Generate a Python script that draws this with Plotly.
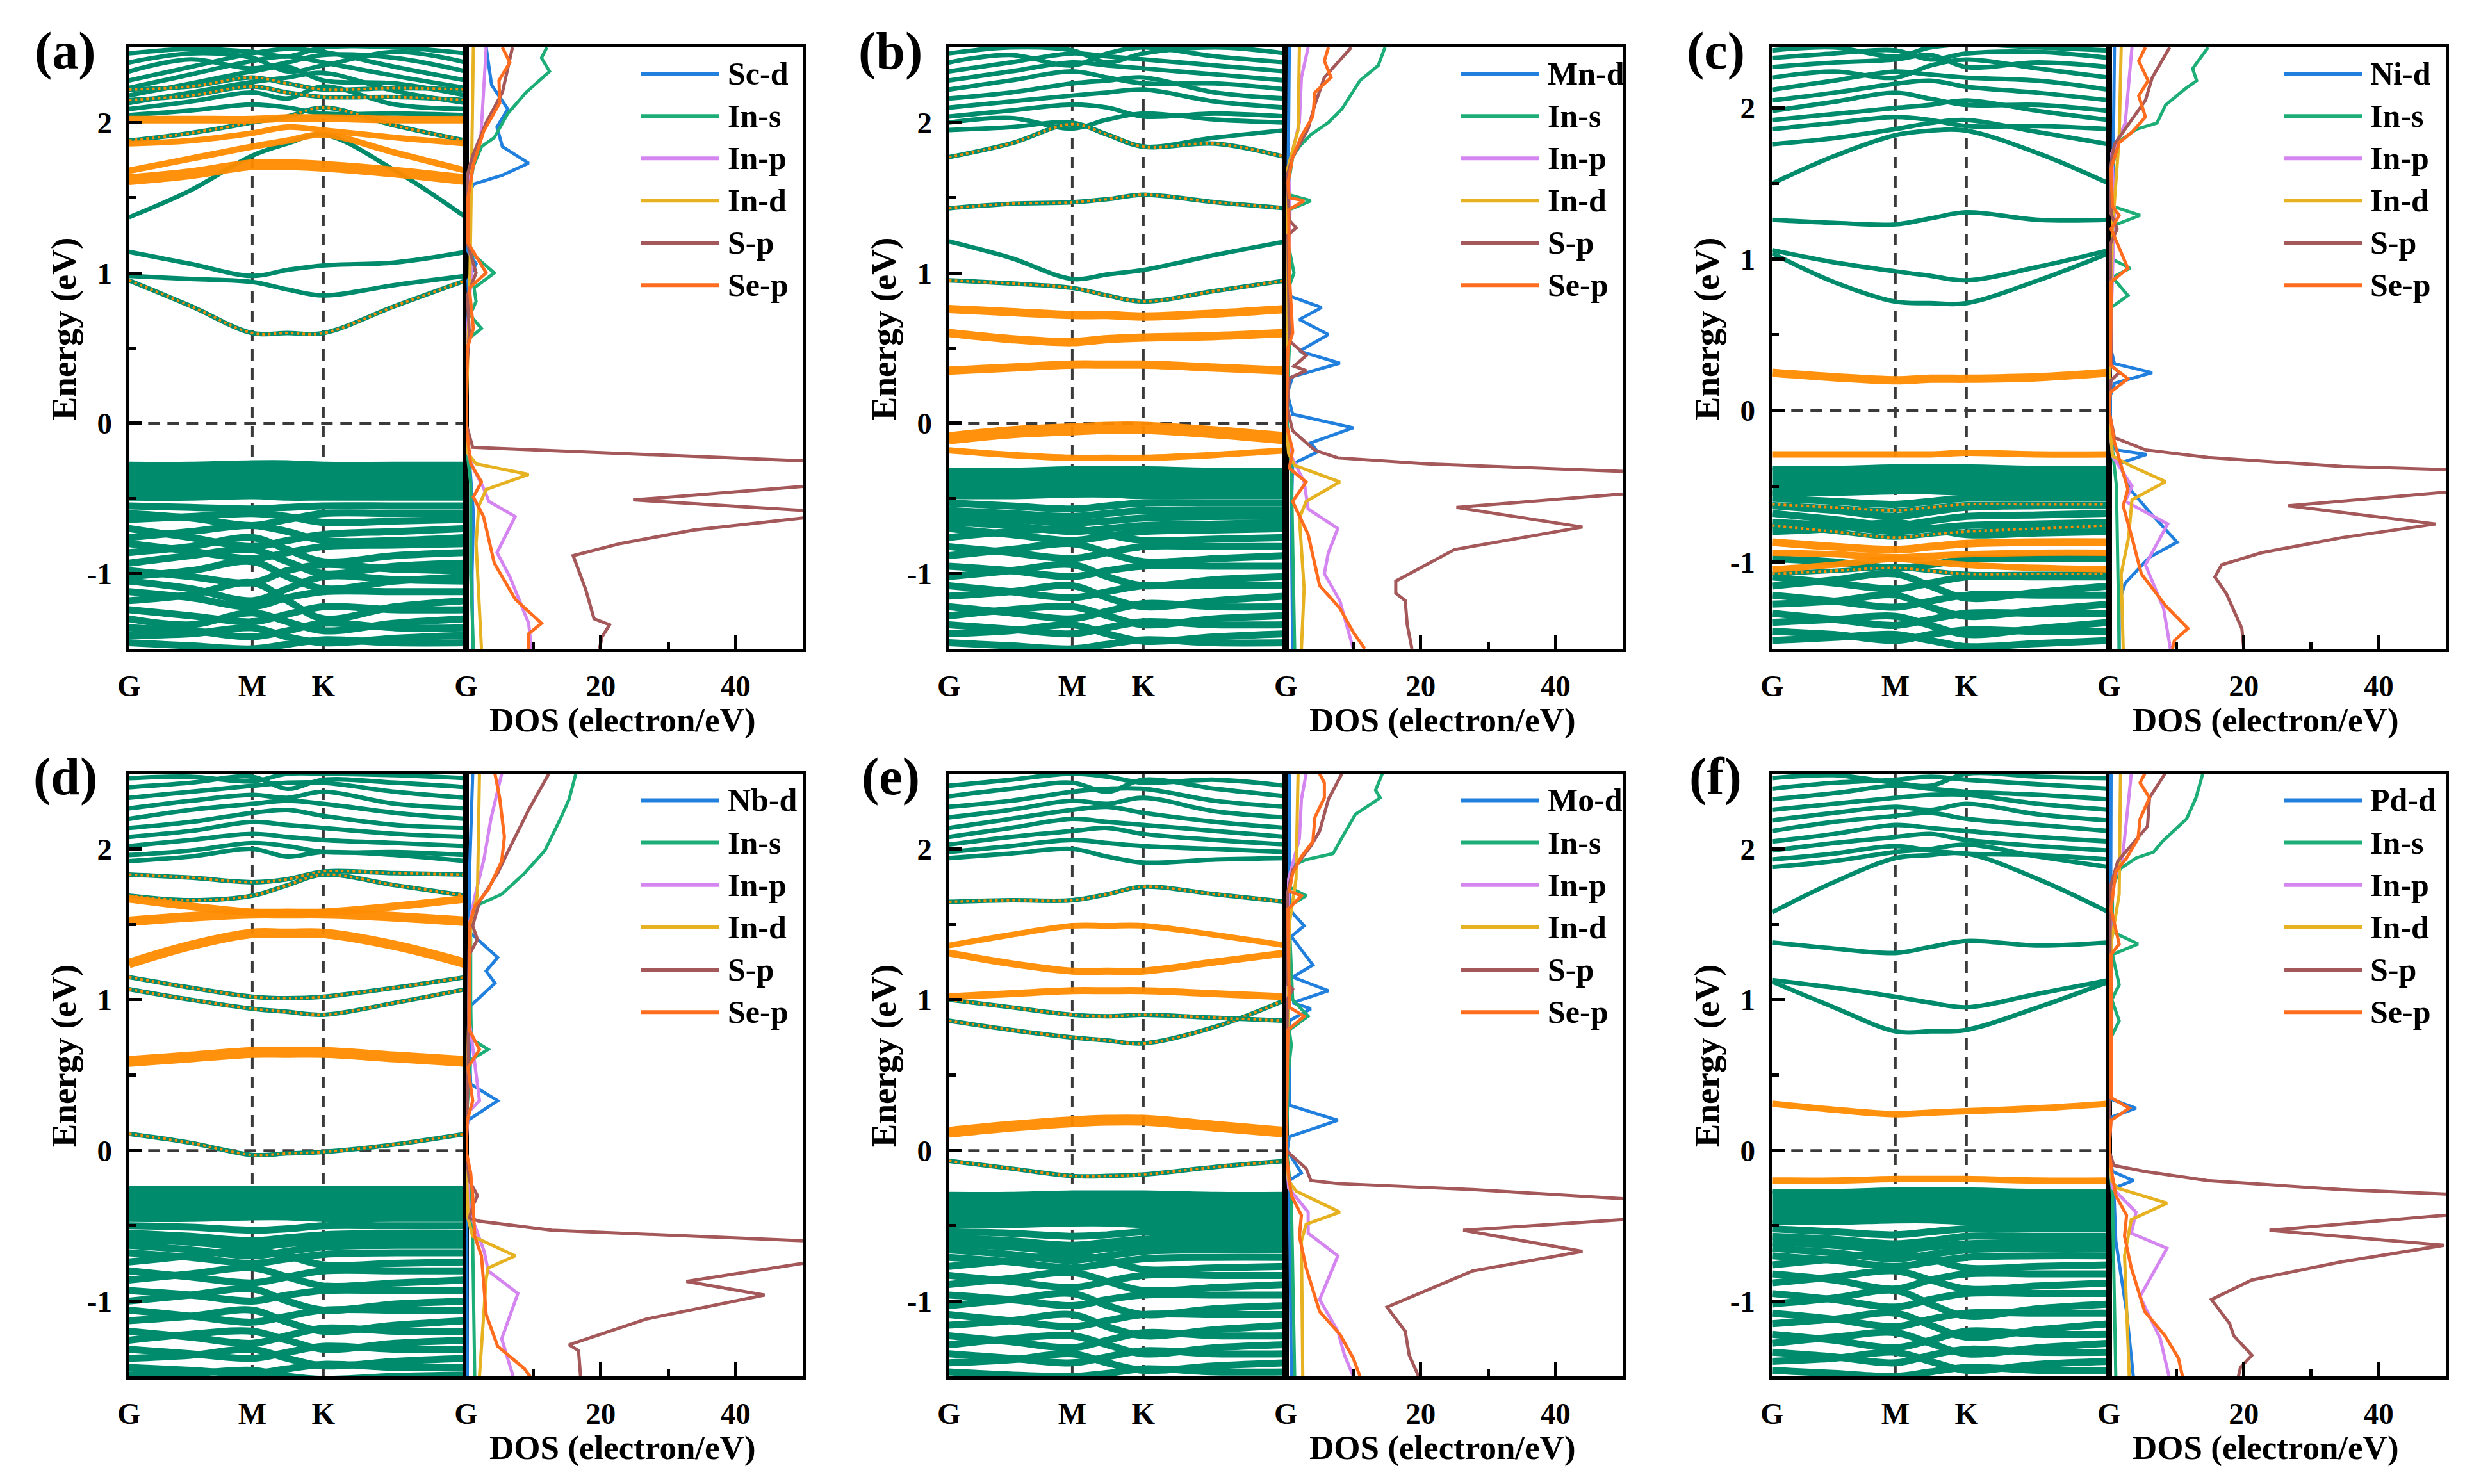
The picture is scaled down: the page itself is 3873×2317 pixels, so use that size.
import plotly.graph_objects as go

# ---------------- axes / labels ----------------
K_NODES = [0.0, 0.183, 0.366, 0.47, 0.577, 0.79, 1.0]   # G, G-M, M, M-K, K, K-G, G
K_TICK_VALS = [0.0, 0.366, 0.577, 1.0]
K_TICK_TEXT = ["G", "M", "K", "G"]
DOS_TICK_VALS = [20, 40]
DOS_MINOR_VALS = [10, 30]
E_TICK_VALS = [-1, 0, 1, 2]
E_TICK_TEXT = ["-1", "0", "1", "2"]
E_MINOR_VALS = [-0.5, 0.5, 1.5]
PANEL_LABELS = ["(a)", "(b)", "(c)", "(d)", "(e)", "(f)"]
TM_NAMES = ["Sc-d", "Mn-d", "Ni-d", "Nb-d", "Mo-d", "Pd-d"]
HOST_NAMES = ["In-s", "In-p", "In-d", "S-p", "Se-p"]
E_RANGES = [[-1.5, 2.5], [-1.5, 2.5], [-1.575, 2.4], [-1.5, 2.5], [-1.5, 2.5], [-1.5, 2.5]]
DOS_RANGE = [0, 50]

# ================= panel (a) Sc =================
A_VB_TOP = [-0.27, -0.27, -0.26, -0.26, -0.27, -0.27, -0.27]
A_VB_BOT = [-0.50, -0.50, -0.49, -0.50, -0.50, -0.50, -0.50]
A_VB = [
    [-0.55, -0.56, -0.57, -0.56, -0.55, -0.55, -0.55],
    [-0.60, -0.63, -0.68, -0.64, -0.60, -0.60, -0.60],
    [-0.64, -0.62, -0.60, -0.62, -0.66, -0.65, -0.64],
    [-0.70, -0.76, -0.82, -0.78, -0.74, -0.72, -0.70],
    [-0.76, -0.72, -0.68, -0.72, -0.78, -0.78, -0.76],
    [-0.80, -0.85, -0.90, -0.86, -0.82, -0.81, -0.80],
    [-0.86, -0.82, -0.76, -0.84, -0.92, -0.88, -0.86],
    [-0.93, -0.88, -0.84, -0.92, -1.00, -0.95, -0.93],
    [-0.98, -1.02, -1.06, -0.98, -0.94, -0.97, -0.98],
    [-1.02, -0.98, -0.92, -1.02, -1.10, -1.05, -1.02],
    [-1.05, -1.10, -1.18, -1.10, -1.02, -1.04, -1.05],
    [-1.12, -1.16, -1.22, -1.16, -1.12, -1.12, -1.12],
    [-1.18, -1.14, -1.06, -1.18, -1.30, -1.22, -1.18],
    [-1.24, -1.28, -1.32, -1.27, -1.22, -1.24, -1.24],
    [-1.30, -1.34, -1.26, -1.32, -1.38, -1.33, -1.30],
    [-1.36, -1.38, -1.42, -1.38, -1.33, -1.36, -1.36],
    [-1.41, -1.40, -1.36, -1.42, -1.46, -1.43, -1.41],
    [-1.46, -1.48, -1.50, -1.47, -1.44, -1.46, -1.46],
]
A_CB = [
    [1.37, 1.55, 1.78, 1.86, 1.92, 1.68, 1.37],
    [1.14, 1.06, 0.98, 1.02, 1.05, 1.07, 1.14],
    [0.98, 0.96, 0.94, 0.89, 0.85, 0.92, 0.98],
    [2.05, 2.08, 2.12, 2.10, 2.06, 2.06, 2.05],
    [2.09, 2.14, 2.20, 2.16, 2.24, 2.12, 2.09],
    [2.13, 2.20, 2.27, 2.30, 2.33, 2.21, 2.13],
    [2.18, 2.26, 2.34, 2.37, 2.28, 2.26, 2.18],
    [2.23, 2.32, 2.41, 2.44, 2.40, 2.31, 2.23],
    [2.28, 2.37, 2.46, 2.49, 2.47, 2.37, 2.28],
    [2.34, 2.42, 2.36, 2.40, 2.45, 2.43, 2.34],
    [2.40, 2.46, 2.43, 2.34, 2.38, 2.47, 2.40],
    [2.46, 2.49, 2.47, 2.44, 2.50, 2.50, 2.46],
]
A_DOT = [
    [0.95, 0.78, 0.60, 0.60, 0.60, 0.78, 0.95],
    [1.88, 1.93, 2.00, 2.04, 2.10, 1.98, 1.88],
    [2.15, 2.18, 2.24, 2.20, 2.17, 2.17, 2.15],
    [2.22, 2.24, 2.30, 2.26, 2.22, 2.23, 2.22],
]
A_ORANGE = [
    [1.62, 1.66, 1.72, 1.72, 1.71, 1.67, 1.62],
    [1.68, 1.76, 1.84, 1.88, 1.92, 1.80, 1.68],
    [1.86, 1.88, 1.93, 1.97, 1.95, 1.90, 1.86],
    [2.02, 2.02, 2.02, 2.03, 2.03, 2.02, 2.02],
]
A_ORANGE_W = [17, 10, 9, 12]

A_TM_D = [(2.5, 3.0), (2.25, 3.8), (2.09, 6.2), (1.97, 4.6), (1.84, 5.4), (1.73, 9.3), (1.65, 5.4), (1.59, 1.1),
          (1.5, 0.3), (1.15, 0.2), (1.06, 1.5), (0.95, 0.3), (0.8, 0.4), (0.6, 0.2), (0.0, 0.0), (-0.15, 0.1),
          (-0.3, 0.6), (-0.6, 1.1), (-1.0, 0.9), (-1.5, 1.0)]
A_IN_S = [(2.5, 12.0), (2.43, 11.2), (2.34, 12.4), (2.2, 8.9), (2.06, 6.2), (1.9, 4.2), (1.84, 2.3), (1.71, 1.1),
          (1.5, 0.3), (1.2, 0.3), (1.12, 1.1), (1.0, 4.2), (0.9, 1.2), (0.81, 1.5), (0.72, 0.6), (0.63, 2.3),
          (0.56, 0.3), (0.3, 0.1), (0.0, 0.0), (-0.2, 0.2), (-0.4, 0.7), (-1.0, 0.7), (-1.5, 1.1)]
A_IN_P = [(2.5, 3.0), (2.2, 2.6), (1.9, 2.2), (1.7, 0.6), (1.5, 0.2), (1.0, 0.8), (0.6, 0.2), (0.0, 0.0),
          (-0.2, 0.3), (-0.3, 1.1), (-0.43, 2.6), (-0.52, 3.4), (-0.62, 7.3), (-0.86, 4.6), (-1.02, 6.5),
          (-1.33, 9.3), (-1.5, 9.7)]
A_IN_D = [(2.5, 1.1), (2.0, 0.9), (1.0, 0.6), (0.0, 0.0), (-0.2, 0.3), (-0.27, 1.5), (-0.34, 9.3), (-0.44, 3.0),
          (-0.55, 1.9), (-0.8, 1.5), (-1.5, 2.3)]
A_S_P = [(2.5, 6.9), (2.2, 5.4), (2.0, 3.0), (1.78, 1.0), (1.65, 0.2), (1.2, 0.2), (1.0, 1.5), (0.85, 0.2),
         (0.6, 0.5), (0.3, 0.0), (0.0, 0.0), (-0.16, 1.0), (-0.25, 50.0), (-0.33, 58.0), (-0.42, 50.0),
         (-0.51, 24.8), (-0.58, 50.0), (-0.605, 56.0), (-0.63, 50.0), (-0.71, 33.8), (-0.8, 22.9), (-0.88, 15.9),
         (-1.11, 17.8), (-1.3, 19.0), (-1.34, 21.3), (-1.42, 20.2), (-1.5, 19.8)]
A_SE_P = [(2.5, 5.4), (2.4, 6.5), (2.28, 4.9), (2.13, 5.0), (1.94, 2.6), (1.72, 1.1), (1.5, 0.3), (1.2, 0.3),
          (1.0, 3.0), (0.9, 0.5), (0.63, 1.1), (0.5, 0.2), (0.0, 0.0), (-0.27, 0.7), (-0.39, 2.3), (-0.49, 1.1),
          (-0.62, 2.6), (-0.93, 4.2), (-1.17, 7.3), (-1.33, 11.2), (-1.4, 9.3), (-1.5, 9.3)]

# ================= panel (b) Mn =================
B_VB_TOP = [-0.31, -0.31, -0.30, -0.30, -0.30, -0.31, -0.31]
B_VB_BOT = [-0.49, -0.49, -0.48, -0.48, -0.49, -0.49, -0.49]
B_VB = [
    [-0.53, -0.55, -0.57, -0.55, -0.53, -0.53, -0.53],
    [-0.58, -0.60, -0.62, -0.60, -0.58, -0.58, -0.58],
    [-0.62, -0.64, -0.66, -0.65, -0.63, -0.62, -0.62],
    [-0.66, -0.68, -0.72, -0.70, -0.68, -0.67, -0.66],
    [-0.70, -0.74, -0.78, -0.75, -0.72, -0.71, -0.70],
    [-0.76, -0.72, -0.70, -0.74, -0.78, -0.77, -0.76],
    [-0.82, -0.86, -0.90, -0.86, -0.82, -0.82, -0.82],
    [-0.88, -0.84, -0.80, -0.86, -0.92, -0.90, -0.88],
    [-0.95, -0.98, -1.02, -0.98, -0.95, -0.95, -0.95],
    [-1.02, -0.98, -0.94, -1.02, -1.08, -1.04, -1.02],
    [-1.08, -1.12, -1.16, -1.12, -1.08, -1.08, -1.08],
    [-1.15, -1.12, -1.08, -1.16, -1.22, -1.18, -1.15],
    [-1.22, -1.26, -1.30, -1.25, -1.20, -1.22, -1.22],
    [-1.28, -1.24, -1.22, -1.28, -1.34, -1.30, -1.28],
    [-1.34, -1.37, -1.40, -1.36, -1.32, -1.34, -1.34],
    [-1.40, -1.38, -1.34, -1.40, -1.45, -1.42, -1.40],
    [-1.46, -1.48, -1.50, -1.47, -1.44, -1.46, -1.46],
]
B_CB = [
    [1.95, 1.97, 2.00, 1.92, 1.84, 1.90, 1.95],
    [2.00, 2.03, 1.96, 2.02, 2.06, 2.02, 2.00],
    [2.04, 2.08, 2.12, 2.10, 2.04, 2.06, 2.04],
    [2.10, 2.14, 2.18, 2.20, 2.22, 2.14, 2.10],
    [2.16, 2.20, 2.26, 2.28, 2.30, 2.20, 2.16],
    [2.22, 2.28, 2.34, 2.30, 2.26, 2.26, 2.22],
    [2.28, 2.34, 2.40, 2.38, 2.36, 2.32, 2.28],
    [2.34, 2.40, 2.46, 2.44, 2.42, 2.38, 2.34],
    [2.40, 2.45, 2.38, 2.46, 2.50, 2.44, 2.40],
    [2.46, 2.50, 2.48, 2.40, 2.46, 2.50, 2.46],
    [1.21, 1.10, 0.96, 0.99, 1.02, 1.12, 1.21],
]
B_DOT = [
    [1.77, 1.86, 1.99, 1.92, 1.84, 1.86, 1.77],
    [1.43, 1.46, 1.47, 1.49, 1.52, 1.47, 1.43],
    [0.95, 0.93, 0.90, 0.85, 0.81, 0.88, 0.95],
]
B_ORANGE = [
    [0.76, 0.74, 0.72, 0.72, 0.71, 0.73, 0.76],
    [0.60, 0.56, 0.54, 0.56, 0.57, 0.58, 0.60],
    [0.35, 0.37, 0.39, 0.39, 0.39, 0.37, 0.35],
    [-0.10, -0.06, -0.04, -0.03, -0.03, -0.06, -0.10],
    [-0.18, -0.21, -0.23, -0.23, -0.23, -0.21, -0.18],
]
B_ORANGE_W = [13, 13, 13, 19, 10]

B_TM_D = [(2.5, 0.5), (1.5, 0.3), (0.85, 0.3), (0.77, 5.3), (0.69, 2.0), (0.59, 6.3), (0.48, 2.0), (0.40, 8.0),
          (0.31, 1.0), (0.2, 0.2), (0.06, 1.0), (-0.03, 10.0), (-0.13, 3.7), (-0.19, 4.7), (-0.27, 1.0),
          (-0.6, 0.8), (-1.5, 1.0)]
B_IN_S = [(2.5, 14.7), (2.38, 13.7), (2.28, 11.0), (2.09, 8.3), (2.0, 6.3), (1.92, 3.7), (1.84, 2.0), (1.77, 1.0),
          (1.6, 0.4), (1.52, 0.5), (1.48, 3.7), (1.42, 0.5), (1.2, 0.3), (1.0, 1.2), (0.9, 0.4), (0.5, 0.5),
          (0.3, 0.3), (0.0, 0.2), (-0.3, 0.8), (-1.5, 1.3)]
B_IN_P = [(2.5, 3.3), (2.3, 2.3), (2.0, 2.0), (1.7, 0.4), (1.4, 0.6), (1.0, 0.3), (0.0, 0.0), (-0.2, 0.6),
          (-0.39, 2.7), (-0.57, 3.3), (-0.7, 7.7), (-0.86, 6.3), (-1.0, 5.7), (-1.18, 8.0), (-1.39, 9.3), (-1.5, 10.0)]
B_IN_D = [(2.5, 2.0), (1.95, 1.8), (1.7, 0.3), (1.0, 0.2), (0.0, 0.0), (-0.2, 0.4), (-0.28, 1.3), (-0.39, 8.0),
          (-0.52, 3.0), (-0.63, 2.0), (-1.1, 2.7), (-1.5, 2.3)]
B_S_P = [(2.5, 9.7), (2.3, 5.7), (2.12, 4.3), (1.96, 3.3), (1.77, 1.0), (1.65, 0.2), (1.35, 0.5), (1.3, 1.5),
         (1.25, 0.3), (0.55, 0.5), (0.45, 3.0), (0.38, 1.2), (0.35, 3.0), (0.3, 0.5), (0.1, 0.2), (-0.05, 1.0),
         (-0.18, 4.3), (-0.23, 7.7), (-0.27, 21.0), (-0.32, 50.0), (-0.39, 58.0), (-0.47, 50.0), (-0.56, 25.3),
         (-0.69, 44.0), (-0.84, 25.0), (-1.05, 16.3), (-1.13, 16.3), (-1.18, 17.7), (-1.34, 18.0), (-1.5, 18.7)]
B_SE_P = [(2.5, 6.3), (2.41, 5.7), (2.3, 6.7), (2.2, 4.3), (2.04, 4.0), (1.91, 2.3), (1.77, 1.0), (1.6, 0.3),
          (1.5, 0.5), (1.48, 2.7), (1.42, 0.4), (1.0, 0.5), (0.6, 1.0), (0.5, 0.3), (0.0, 0.0), (-0.18, 1.0),
          (-0.3, 0.5), (-0.39, 3.0), (-0.52, 1.0), (-0.74, 3.3), (-1.08, 5.0), (-1.23, 8.0), (-1.39, 10.0), (-1.5, 11.7)]

# ================= panel (c) Ni =================
C_VB_TOP = [-0.38, -0.38, -0.37, -0.37, -0.37, -0.38, -0.38]
C_VB_BOT = [-0.55, -0.55, -0.54, -0.54, -0.55, -0.55, -0.55]
C_VB = [
    [-0.58, -0.60, -0.62, -0.60, -0.58, -0.58, -0.58],
    [-0.63, -0.66, -0.70, -0.67, -0.64, -0.63, -0.63],
    [-0.68, -0.72, -0.76, -0.73, -0.70, -0.69, -0.68],
    [-0.74, -0.76, -0.80, -0.78, -0.76, -0.75, -0.74],
    [-0.80, -0.78, -0.74, -0.78, -0.82, -0.81, -0.80],
    [-0.98, -1.00, -1.04, -1.02, -0.98, -0.98, -0.98],
    [-1.10, -1.14, -1.18, -1.14, -1.10, -1.10, -1.10],
    [-1.16, -1.12, -1.08, -1.16, -1.24, -1.20, -1.16],
    [-1.22, -1.26, -1.30, -1.26, -1.22, -1.22, -1.22],
    [-1.28, -1.26, -1.22, -1.30, -1.36, -1.32, -1.28],
    [-1.34, -1.38, -1.42, -1.38, -1.34, -1.34, -1.34],
    [-1.40, -1.38, -1.36, -1.42, -1.48, -1.44, -1.40],
    [-1.46, -1.48, -1.52, -1.48, -1.45, -1.46, -1.46],
    [-1.52, -1.50, -1.48, -1.52, -1.56, -1.54, -1.52],
]
C_CB = [
    [1.50, 1.68, 1.82, 1.85, 1.85, 1.70, 1.50],
    [1.26, 1.24, 1.23, 1.27, 1.31, 1.26, 1.26],
    [1.06, 0.98, 0.92, 0.89, 0.86, 0.95, 1.06],
    [1.04, 0.85, 0.72, 0.71, 0.71, 0.86, 1.04],
    [1.76, 1.80, 1.86, 1.90, 1.92, 1.84, 1.76],
    [1.86, 1.90, 1.94, 1.92, 1.88, 1.88, 1.86],
    [1.92, 1.96, 2.00, 2.02, 2.05, 1.98, 1.92],
    [1.98, 2.04, 2.10, 2.06, 2.02, 2.02, 1.98],
    [2.05, 2.10, 2.16, 2.18, 2.14, 2.10, 2.05],
    [2.12, 2.18, 2.24, 2.22, 2.20, 2.18, 2.12],
    [2.20, 2.24, 2.20, 2.28, 2.32, 2.26, 2.20],
    [2.27, 2.30, 2.32, 2.35, 2.27, 2.30, 2.27],
    [2.33, 2.36, 2.38, 2.32, 2.36, 2.37, 2.33],
    [2.38, 2.40, 2.34, 2.40, 2.42, 2.40, 2.38],
]
C_DOT = [
    [-0.62, -0.64, -0.66, -0.64, -0.62, -0.62, -0.62],
    [-0.76, -0.80, -0.84, -0.82, -0.80, -0.78, -0.76],
    [-1.08, -1.06, -1.04, -1.06, -1.08, -1.08, -1.08],
]
C_ORANGE = [
    [0.25, 0.22, 0.20, 0.21, 0.21, 0.22, 0.25],
    [-0.29, -0.29, -0.29, -0.29, -0.28, -0.29, -0.29],
    [-0.87, -0.90, -0.92, -0.90, -0.88, -0.87, -0.87],
    [-0.94, -0.95, -0.97, -0.96, -0.95, -0.94, -0.94],
    [-1.05, -1.02, -0.98, -1.00, -1.02, -1.04, -1.05],
]
C_ORANGE_W = [13, 10, 12, 10, 10]

C_TM_D = [(2.4, 0.8), (1.0, 0.5), (0.4, 0.3), (0.31, 0.8), (0.25, 6.4), (0.18, 0.8), (0.1, 0.2), (-0.2, 0.2),
          (-0.26, 1.0), (-0.29, 5.6), (-0.35, 1.5), (-0.52, 3.1), (-0.66, 5.8), (-0.87, 10.1), (-0.97, 6.0),
          (-1.14, 2.4), (-1.26, 1.5), (-1.575, 1.5)]
C_IN_S = [(2.4, 14.7), (2.26, 12.4), (2.18, 13.0), (2.13, 11.4), (2.02, 8.4), (1.9, 7.1), (1.86, 4.1), (1.78, 1.5),
          (1.6, 0.4), (1.35, 0.5), (1.29, 4.6), (1.22, 0.5), (1.0, 0.5), (0.94, 3.1), (0.88, 0.5), (0.76, 2.8),
          (0.68, 0.3), (0.3, 0.1), (0.0, 0.0), (-0.3, 0.6), (-0.5, 1.1), (-1.575, 1.5)]
C_IN_P = [(2.4, 3.4), (1.9, 2.4), (1.7, 0.4), (1.3, 0.8), (0.9, 0.5), (0.0, 0.0), (-0.3, 0.5), (-0.5, 3.4),
          (-0.6, 2.4), (-0.75, 8.7), (-1.02, 5.4), (-1.31, 8.1), (-1.575, 9.1)]
C_IN_D = [(2.4, 1.8), (1.8, 1.5), (1.2, 0.5), (0.0, 0.0), (-0.3, 0.5), (-0.37, 3.4), (-0.47, 8.4), (-0.59, 3.4),
          (-0.84, 2.9), (-1.08, 1.8), (-1.575, 2.1)]
C_S_P = [(2.4, 9.0), (2.2, 6.4), (2.05, 5.4), (1.86, 2.4), (1.76, 0.8), (1.6, 0.2), (1.3, 0.3), (1.2, 1.2),
         (1.1, 0.2), (0.3, 0.3), (0.25, 1.5), (0.2, 0.3), (0.0, 0.0), (-0.18, 0.8), (-0.26, 5.4), (-0.31, 14.7),
         (-0.37, 34.6), (-0.39, 50.0), (-0.46, 58.0), (-0.54, 50.0), (-0.63, 26.6), (-0.75, 48.5), (-0.84, 34.6),
         (-0.94, 22.6), (-1.02, 16.7), (-1.1, 15.7), (-1.21, 17.4), (-1.34, 18.7), (-1.44, 19.7), (-1.575, 20.0)]
C_SE_P = [(2.4, 5.4), (2.31, 4.4), (2.18, 5.8), (2.08, 4.4), (1.94, 5.4), (1.84, 3.4), (1.77, 1.5), (1.6, 0.3),
          (1.35, 0.5), (1.29, 1.5), (1.2, 0.3), (0.94, 2.8), (0.85, 0.3), (0.3, 0.2), (0.21, 2.8), (0.12, 0.2),
          (0.0, 0.0), (-0.21, 0.8), (-0.52, 2.8), (-0.63, 2.1), (-0.84, 3.4), (-1.08, 4.8), (-1.29, 8.4),
          (-1.44, 11.7), (-1.52, 9.7), (-1.575, 9.4)]

# ================= panel (d) Nb =================
D_VB_TOP = [-0.25, -0.25, -0.25, -0.25, -0.25, -0.25, -0.25]
D_VB_BOT = [-0.46, -0.46, -0.45, -0.45, -0.46, -0.46, -0.46]
D_VB = [
    [-0.50, -0.51, -0.53, -0.52, -0.50, -0.50, -0.50],
    [-0.55, -0.57, -0.60, -0.58, -0.56, -0.55, -0.55],
    [-0.59, -0.61, -0.64, -0.62, -0.60, -0.59, -0.59],
    [-0.63, -0.66, -0.70, -0.67, -0.64, -0.63, -0.63],
    [-0.68, -0.71, -0.75, -0.72, -0.69, -0.68, -0.68],
    [-0.74, -0.70, -0.66, -0.70, -0.76, -0.75, -0.74],
    [-0.80, -0.84, -0.88, -0.84, -0.80, -0.80, -0.80],
    [-0.86, -0.82, -0.78, -0.84, -0.90, -0.88, -0.86],
    [-0.93, -0.96, -1.00, -0.96, -0.93, -0.93, -0.93],
    [-1.00, -0.96, -0.92, -1.00, -1.06, -1.02, -1.00],
    [-1.06, -1.10, -1.14, -1.10, -1.06, -1.06, -1.06],
    [-1.13, -1.10, -1.06, -1.14, -1.20, -1.16, -1.13],
    [-1.20, -1.24, -1.28, -1.23, -1.18, -1.20, -1.20],
    [-1.26, -1.22, -1.20, -1.26, -1.32, -1.28, -1.26],
    [-1.32, -1.35, -1.38, -1.34, -1.30, -1.32, -1.32],
    [-1.38, -1.36, -1.32, -1.38, -1.43, -1.40, -1.38],
    [-1.44, -1.46, -1.48, -1.45, -1.42, -1.44, -1.44],
    [-1.49, -1.48, -1.46, -1.50, -1.52, -1.50, -1.49],
]
D_CB = [
    [1.92, 1.95, 2.00, 1.95, 1.98, 1.96, 1.92],
    [1.96, 1.99, 2.04, 2.02, 1.98, 1.98, 1.96],
    [2.02, 2.06, 2.10, 2.08, 2.06, 2.04, 2.02],
    [2.08, 2.12, 2.18, 2.16, 2.14, 2.10, 2.08],
    [2.14, 2.18, 2.24, 2.26, 2.22, 2.16, 2.14],
    [2.20, 2.26, 2.30, 2.32, 2.30, 2.24, 2.20],
    [2.27, 2.32, 2.36, 2.34, 2.38, 2.30, 2.27],
    [2.34, 2.38, 2.42, 2.44, 2.44, 2.38, 2.34],
    [2.41, 2.44, 2.48, 2.40, 2.46, 2.44, 2.41],
    [2.47, 2.48, 2.45, 2.50, 2.50, 2.49, 2.47],
]
D_DOT = [
    [0.11, 0.05, -0.03, -0.02, -0.01, 0.04, 0.11],
    [1.15, 1.08, 1.02, 1.01, 1.02, 1.08, 1.15],
    [1.07, 1.00, 0.94, 0.92, 0.90, 0.98, 1.07],
    [1.83, 1.81, 1.78, 1.80, 1.85, 1.84, 1.83],
    [1.69, 1.66, 1.69, 1.76, 1.83, 1.76, 1.69],
]
D_ORANGE = [
    [0.59, 0.62, 0.65, 0.65, 0.65, 0.62, 0.59],
    [1.24, 1.36, 1.44, 1.44, 1.44, 1.36, 1.24],
    [1.52, 1.55, 1.57, 1.57, 1.57, 1.55, 1.52],
    [1.67, 1.62, 1.58, 1.58, 1.58, 1.62, 1.67],
]
D_ORANGE_W = [17, 15, 15, 12]

D_TM_D = [(2.5, 1.0), (1.8, 0.5), (1.45, 0.5), (1.39, 2.0), (1.28, 4.7), (1.19, 3.0), (1.11, 4.3), (0.96, 0.7),
          (0.7, 0.5), (0.44, 0.7), (0.33, 4.7), (0.2, 0.3), (0.1, 0.0), (-0.3, 0.1), (-1.5, 0.2)]
D_IN_S = [(2.5, 16.3), (2.33, 15.3), (2.2, 14.0), (1.99, 11.7), (1.84, 8.7), (1.7, 5.3), (1.62, 1.3), (1.5, 0.7),
          (1.0, 0.7), (0.74, 0.8), (0.67, 3.3), (0.6, 0.7), (0.3, 0.2), (0.0, 0.0), (-0.3, 0.6), (-0.6, 1.0), (-1.5, 1.3)]
D_IN_P = [(2.5, 5.3), (2.2, 3.7), (1.94, 2.7), (1.68, 1.3), (1.5, 0.5), (0.9, 0.4), (0.33, 2.0), (0.25, 0.3),
          (0.0, 0.0), (-0.4, 0.5), (-0.67, 2.7), (-0.8, 3.3), (-0.95, 7.7), (-1.25, 5.3), (-1.5, 7.0)]
D_IN_D = [(2.5, 2.0), (1.7, 1.7), (1.5, 0.7), (0.5, 0.3), (0.0, 0.0), (-0.45, 0.3), (-0.57, 1.0), (-0.7, 7.3),
          (-0.78, 3.3), (-0.85, 3.0), (-1.5, 2.0)]
D_S_P = [(2.5, 12.3), (2.26, 9.3), (1.99, 6.3), (1.84, 4.7), (1.65, 2.0), (1.49, 1.0), (1.4, 1.7), (1.3, 0.5),
         (0.5, 0.3), (0.0, 0.0), (-0.2, 0.5), (-0.3, 1.7), (-0.37, 1.0), (-0.45, 0.5), (-0.47, 2.0), (-0.53, 12.7),
         (-0.60, 50.0), (-0.67, 58.0), (-0.75, 50.0), (-0.87, 32.7), (-0.96, 44.3), (-1.12, 26.7), (-1.29, 15.3),
         (-1.33, 16.7), (-1.5, 17.0)]
D_SE_P = [(2.5, 4.3), (2.34, 5.0), (2.08, 5.7), (1.92, 5.3), (1.73, 3.3), (1.62, 1.3), (1.5, 0.5), (0.8, 0.5),
          (0.67, 2.0), (0.55, 0.3), (0.33, 1.0), (0.2, 0.2), (0.0, 0.0), (-0.15, 0.7), (-0.3, 1.0), (-0.57, 1.3),
          (-0.7, 2.3), (-1.09, 3.0), (-1.3, 4.7), (-1.45, 8.7), (-1.5, 9.5)]

# ================= panel (e) Mo =================
E_VB_TOP = [-0.29, -0.29, -0.28, -0.28, -0.28, -0.29, -0.29]
E_VB_BOT = [-0.50, -0.50, -0.49, -0.49, -0.50, -0.50, -0.50]
E_VB = [
    [-0.54, -0.55, -0.57, -0.56, -0.54, -0.54, -0.54],
    [-0.58, -0.60, -0.63, -0.61, -0.59, -0.58, -0.58],
    [-0.62, -0.64, -0.67, -0.65, -0.63, -0.62, -0.62],
    [-0.66, -0.69, -0.73, -0.70, -0.67, -0.66, -0.66],
    [-0.71, -0.74, -0.78, -0.75, -0.72, -0.71, -0.71],
    [-0.77, -0.73, -0.69, -0.73, -0.79, -0.78, -0.77],
    [-0.83, -0.87, -0.91, -0.87, -0.83, -0.83, -0.83],
    [-0.89, -0.85, -0.81, -0.87, -0.93, -0.91, -0.89],
    [-0.96, -0.99, -1.03, -0.99, -0.96, -0.96, -0.96],
    [-1.03, -0.99, -0.95, -1.03, -1.09, -1.05, -1.03],
    [-1.09, -1.13, -1.17, -1.13, -1.09, -1.09, -1.09],
    [-1.16, -1.13, -1.09, -1.17, -1.23, -1.19, -1.16],
    [-1.23, -1.27, -1.31, -1.26, -1.21, -1.23, -1.23],
    [-1.29, -1.25, -1.23, -1.29, -1.35, -1.31, -1.29],
    [-1.35, -1.38, -1.41, -1.37, -1.33, -1.35, -1.35],
    [-1.41, -1.39, -1.35, -1.41, -1.46, -1.43, -1.41],
    [-1.47, -1.49, -1.50, -1.48, -1.45, -1.47, -1.47],
]
E_CB = [
    [1.94, 1.97, 2.00, 1.95, 1.91, 1.93, 1.94],
    [1.98, 2.02, 2.06, 2.04, 2.02, 2.00, 1.98],
    [2.03, 2.08, 2.12, 2.14, 2.10, 2.06, 2.03],
    [2.08, 2.14, 2.20, 2.18, 2.16, 2.12, 2.08],
    [2.14, 2.20, 2.26, 2.28, 2.24, 2.18, 2.14],
    [2.21, 2.26, 2.32, 2.30, 2.34, 2.25, 2.21],
    [2.28, 2.32, 2.38, 2.40, 2.40, 2.32, 2.28],
    [2.35, 2.40, 2.44, 2.38, 2.46, 2.40, 2.35],
    [2.42, 2.46, 2.50, 2.48, 2.44, 2.46, 2.42],
]
E_DOT = [
    [-0.07, -0.12, -0.17, -0.17, -0.16, -0.11, -0.07],
    [1.65, 1.66, 1.66, 1.70, 1.75, 1.70, 1.65],
    [0.86, 0.80, 0.75, 0.73, 0.71, 0.82, 1.00],
    [1.00, 0.95, 0.90, 0.89, 0.90, 0.88, 0.86],
]
E_ORANGE = [
    [0.12, 0.16, 0.19, 0.20, 0.20, 0.16, 0.12],
    [1.02, 1.04, 1.06, 1.06, 1.06, 1.04, 1.02],
    [1.31, 1.24, 1.19, 1.19, 1.19, 1.25, 1.31],
    [1.36, 1.43, 1.49, 1.49, 1.49, 1.43, 1.36],
]
E_ORANGE_W = [17, 11, 11, 9]

E_TM_D = [(2.5, 0.5), (1.6, 0.5), (1.49, 2.7), (1.42, 0.8), (1.23, 4.0), (1.15, 1.0), (1.06, 6.3), (0.98, 1.0),
          (0.94, 3.7), (0.86, 0.5), (0.3, 0.5), (0.2, 7.7), (0.09, 0.5), (0.0, 0.2), (-0.15, 2.3), (-0.2, 0.5),
          (-0.6, 0.6), (-1.5, 0.8)]
E_IN_S = [(2.5, 14.3), (2.39, 13.3), (2.34, 14.0), (2.23, 10.3), (2.05, 8.0), (1.97, 7.0), (1.93, 3.0), (1.89, 1.0),
          (1.75, 0.4), (1.69, 3.0), (1.62, 0.4), (1.0, 1.0), (0.89, 3.3), (0.8, 0.5), (0.7, 0.8), (0.5, 0.3),
          (0.0, 0.1), (-0.3, 0.8), (-1.5, 1.3)]
E_IN_P = [(2.5, 3.0), (2.33, 2.3), (2.07, 2.0), (1.8, 0.4), (1.5, 0.3), (0.0, 0.0), (-0.25, 0.4), (-0.41, 3.3),
          (-0.55, 3.3), (-0.70, 7.7), (-0.99, 5.0), (-1.2, 7.7), (-1.36, 8.7), (-1.5, 10.0)]
E_IN_D = [(2.5, 1.8), (1.8, 1.5), (1.5, 0.5), (0.0, 0.0), (-0.2, 0.4), (-0.27, 1.5), (-0.41, 8.0), (-0.49, 3.0),
          (-0.6, 2.3), (-1.5, 2.5)]
E_S_P = [(2.5, 8.3), (2.33, 6.3), (2.12, 5.0), (2.02, 3.7), (1.86, 1.0), (1.7, 0.2), (1.1, 0.3), (1.07, 1.0),
         (1.0, 0.2), (0.0, 0.0), (-0.12, 3.0), (-0.2, 3.7), (-0.22, 7.7), (-0.26, 27.7), (-0.32, 50.0), (-0.39, 58.0),
         (-0.46, 50.0), (-0.53, 26.3), (-0.67, 44.0), (-0.80, 27.7), (-1.04, 15.0), (-1.12, 16.3), (-1.2, 17.7),
         (-1.36, 18.3), (-1.5, 19.7)]
E_SE_P = [(2.5, 5.0), (2.44, 5.7), (2.34, 5.7), (2.21, 4.3), (2.05, 4.0), (1.95, 2.3), (1.84, 1.0), (1.72, 0.5),
          (1.69, 2.3), (1.6, 0.3), (0.95, 0.5), (0.89, 2.7), (0.8, 0.3), (0.0, 0.0), (-0.2, 0.5), (-0.3, 0.8),
          (-0.43, 2.3), (-0.57, 2.0), (-0.78, 3.0), (-1.07, 5.0), (-1.22, 8.0), (-1.38, 10.0), (-1.5, 11.0)]

# ================= panel (f) Pd =================
F_VB_TOP = [-0.27, -0.27, -0.26, -0.26, -0.26, -0.27, -0.27]
F_VB_BOT = [-0.48, -0.48, -0.47, -0.47, -0.48, -0.48, -0.48]
F_VB = [
    [-0.52, -0.54, -0.56, -0.54, -0.52, -0.52, -0.52],
    [-0.57, -0.59, -0.62, -0.60, -0.57, -0.57, -0.57],
    [-0.61, -0.63, -0.66, -0.64, -0.62, -0.61, -0.61],
    [-0.65, -0.68, -0.72, -0.69, -0.66, -0.65, -0.65],
    [-0.70, -0.73, -0.77, -0.74, -0.71, -0.70, -0.70],
    [-0.76, -0.72, -0.68, -0.72, -0.78, -0.77, -0.76],
    [-0.82, -0.86, -0.92, -0.86, -0.82, -0.82, -0.82],
    [-0.88, -0.84, -0.80, -0.86, -0.92, -0.90, -0.88],
    [-0.95, -0.99, -1.04, -0.99, -0.95, -0.95, -0.95],
    [-1.02, -0.98, -0.93, -1.02, -1.10, -1.05, -1.02],
    [-1.08, -1.12, -1.17, -1.12, -1.08, -1.08, -1.08],
    [-1.15, -1.12, -1.08, -1.16, -1.24, -1.19, -1.15],
    [-1.22, -1.26, -1.31, -1.26, -1.20, -1.22, -1.22],
    [-1.28, -1.24, -1.21, -1.28, -1.35, -1.31, -1.28],
    [-1.34, -1.37, -1.41, -1.36, -1.32, -1.34, -1.34],
    [-1.40, -1.38, -1.34, -1.40, -1.46, -1.42, -1.40],
    [-1.46, -1.48, -1.50, -1.47, -1.44, -1.46, -1.46],
]
F_CB = [
    [1.12, 0.95, 0.79, 0.79, 0.80, 0.95, 1.12],
    [1.13, 1.08, 1.02, 0.98, 0.95, 1.04, 1.13],
    [1.38, 1.34, 1.31, 1.35, 1.39, 1.36, 1.38],
    [1.58, 1.78, 1.94, 1.96, 1.97, 1.80, 1.58],
    [1.88, 1.92, 1.98, 2.00, 2.03, 1.95, 1.88],
    [1.93, 1.97, 2.02, 1.99, 1.97, 1.96, 1.93],
    [1.99, 2.04, 2.08, 2.10, 2.06, 2.02, 1.99],
    [2.05, 2.10, 2.16, 2.14, 2.12, 2.08, 2.05],
    [2.12, 2.18, 2.22, 2.24, 2.20, 2.16, 2.12],
    [2.19, 2.24, 2.28, 2.26, 2.30, 2.23, 2.19],
    [2.26, 2.30, 2.34, 2.36, 2.36, 2.30, 2.26],
    [2.33, 2.37, 2.42, 2.40, 2.38, 2.36, 2.33],
    [2.40, 2.44, 2.46, 2.48, 2.46, 2.43, 2.40],
    [2.47, 2.49, 2.44, 2.42, 2.50, 2.48, 2.47],
]
F_DOT = []
F_ORANGE = [
    [0.31, 0.27, 0.24, 0.25, 0.26, 0.28, 0.31],
    [-0.20, -0.20, -0.19, -0.19, -0.19, -0.20, -0.20],
]
F_ORANGE_W = [10, 10]

F_TM_D = [(2.5, 0.3), (1.0, 0.2), (0.34, 0.3), (0.28, 4.0), (0.22, 0.3), (0.0, 0.0), (-0.14, 0.5), (-0.2, 3.6),
          (-0.25, 0.7), (-0.6, 1.0), (-1.07, 2.6), (-1.5, 3.6)]
F_IN_S = [(2.5, 13.9), (2.34, 12.9), (2.2, 11.5), (2.05, 7.9), (1.98, 6.6), (1.94, 4.0), (1.87, 1.7), (1.75, 0.5),
          (1.45, 0.5), (1.37, 4.3), (1.3, 0.5), (1.1, 1.5), (1.0, 0.4), (0.86, 1.5), (0.75, 0.3), (0.0, 0.0),
          (-0.3, 0.5), (-1.5, 1.0)]
F_IN_P = [(2.5, 3.3), (2.2, 2.6), (1.94, 2.0), (1.75, 0.3), (1.0, 0.2), (0.0, 0.0), (-0.25, 0.5), (-0.41, 4.0),
          (-0.55, 3.3), (-0.65, 8.6), (-0.97, 4.6), (-1.25, 7.6), (-1.5, 8.9)]
F_IN_D = [(2.5, 1.7), (1.7, 1.5), (1.4, 0.4), (0.0, 0.0), (-0.2, 0.4), (-0.25, 1.2), (-0.35, 8.6), (-0.46, 3.3),
          (-0.7, 2.3), (-1.1, 2.6), (-1.5, 3.0)]
F_S_P = [(2.5, 8.3), (2.34, 6.0), (2.15, 5.7), (2.02, 3.3), (1.92, 1.3), (1.75, 0.2), (0.0, 0.0), (-0.10, 0.7),
         (-0.14, 5.3), (-0.2, 14.6), (-0.26, 34.4), (-0.29, 50.0), (-0.36, 58.0), (-0.43, 50.0), (-0.53, 23.8),
         (-0.63, 49.7), (-0.74, 34.4), (-0.86, 21.2), (-0.99, 15.2), (-1.15, 17.9), (-1.23, 18.5), (-1.36, 21.2),
         (-1.44, 19.5), (-1.5, 19.2)]
F_SE_P = [(2.5, 5.3), (2.44, 4.6), (2.34, 6.0), (2.2, 4.6), (2.07, 4.3), (1.94, 2.6), (1.85, 1.0), (1.6, 0.3),
          (1.37, 1.5), (1.3, 0.3), (0.35, 0.3), (0.28, 3.0), (0.2, 0.3), (0.0, 0.0), (-0.17, 0.5), (-0.3, 1.0),
          (-0.43, 2.6), (-0.57, 2.3), (-0.78, 3.3), (-1.07, 5.3), (-1.23, 8.3), (-1.38, 10.3), (-1.5, 10.9)]

PANELS = [
    (A_VB_TOP, A_VB_BOT, A_VB, A_CB, A_DOT, A_ORANGE, A_ORANGE_W, [A_TM_D, A_IN_S, A_IN_P, A_IN_D, A_S_P, A_SE_P]),
    (B_VB_TOP, B_VB_BOT, B_VB, B_CB, B_DOT, B_ORANGE, B_ORANGE_W, [B_TM_D, B_IN_S, B_IN_P, B_IN_D, B_S_P, B_SE_P]),
    (C_VB_TOP, C_VB_BOT, C_VB, C_CB, C_DOT, C_ORANGE, C_ORANGE_W, [C_TM_D, C_IN_S, C_IN_P, C_IN_D, C_S_P, C_SE_P]),
    (D_VB_TOP, D_VB_BOT, D_VB, D_CB, D_DOT, D_ORANGE, D_ORANGE_W, [D_TM_D, D_IN_S, D_IN_P, D_IN_D, D_S_P, D_SE_P]),
    (E_VB_TOP, E_VB_BOT, E_VB, E_CB, E_DOT, E_ORANGE, E_ORANGE_W, [E_TM_D, E_IN_S, E_IN_P, E_IN_D, E_S_P, E_SE_P]),
    (F_VB_TOP, F_VB_BOT, F_VB, F_CB, F_DOT, F_ORANGE, F_ORANGE_W, [F_TM_D, F_IN_S, F_IN_P, F_IN_D, F_S_P, F_SE_P]),
]

# ---------------- styles / layout (pixel positions in the picture) ----------------
W, H = 3873, 2317
OFF = 8  # page body margin of the html page
GREEN = "#008C6C"
ORANGE = "#FF8C00"
PDOS_COLORS = ["#2180DE", "#1DAE78", "#D585F0", "#E6B222", "#A4585A", "#FF6C1E"]
FONT = "Liberation Serif"
COL_BAND_PX = [(185, 716), (1477, 2008), (2774, 3305)]
COL_DOS_PX = [(716, 1247), (2008, 2539), (3305, 3836)]
ROWS_PX = [(74, 1013), (1208, 2149)]
LABEL_X_PX = [85, 1385, 2685]
LABEL_Y_PX = [79, 1212]
ETITLE_X_PX = [82, 1374, 2671]
ETITLE_Y_PX = [513, 1648]
DOSTITLE_Y_PX = [1124, 2260]
LEG_Y0, LEG_DY = 0.956, 0.0703


def fx(px):
    return (px - OFF) / W


def fy(py):
    return 1 - (py - OFF) / H


fig = go.Figure()
layout = dict(width=W, height=H, margin=dict(l=0, r=0, t=0, b=0),
              paper_bgcolor="white", plot_bgcolor="white", showlegend=False)
shapes, annotations = [], []
tickfont = dict(family=FONT, size=47, color="black", weight="bold")


def axname(n):
    return ("x" if n == 1 else f"x{n}"), ("y" if n == 1 else f"y{n}")


for p, (vbt, vbb, vb, cb, dot, ora, ora_w, pdos) in enumerate(PANELS):
    r, c = divmod(p, 3)
    nb, nd = 2 * p + 1, 2 * p + 2
    xb, yb = axname(nb)
    xd, yd = axname(nd)
    erange = E_RANGES[p]
    ydom = [fy(ROWS_PX[r][1]), fy(ROWS_PX[r][0])]

    common = dict(xaxis=xb, yaxis=yb, showlegend=False, hoverinfo="skip", mode="lines")
    # valence block
    fig.add_trace(go.Scatter(x=K_NODES, y=vbb, line=dict(color=GREEN, width=7, shape="spline"), **common))
    fig.add_trace(go.Scatter(x=K_NODES, y=vbt, fill="tonexty", fillcolor=GREEN,
                             line=dict(color=GREEN, width=7, shape="spline"), **common))
    for band in vb:
        fig.add_trace(go.Scatter(x=K_NODES, y=band, line=dict(color=GREEN, width=11, shape="spline"), **common))
    for band in cb:
        fig.add_trace(go.Scatter(x=K_NODES, y=band, line=dict(color=GREEN, width=7, shape="spline"), **common))
    for band in dot:
        fig.add_trace(go.Scatter(x=K_NODES, y=band, line=dict(color=GREEN, width=7, shape="spline"), **common))
        fig.add_trace(go.Scatter(x=K_NODES, y=band, line=dict(color=ORANGE, width=4, shape="spline",
                                                              dash="4px,5px"), **common))
    for band, w in zip(ora, ora_w):
        fig.add_trace(go.Scatter(x=K_NODES, y=band, line=dict(color=ORANGE, width=w, shape="spline"),
                                 opacity=0.95, **common))

    # PDOS curves
    for curve, col in zip(pdos, PDOS_COLORS):
        fig.add_trace(go.Scatter(x=[d for e, d in curve], y=[e for e, d in curve], mode="lines",
                                 line=dict(color=col, width=5), xaxis=xd, yaxis=yd,
                                 showlegend=False, hoverinfo="skip"))

    # axes
    layout[f"xaxis{nb if nb > 1 else ''}"] = dict(
        domain=[fx(COL_BAND_PX[c][0]), fx(COL_BAND_PX[c][1])], anchor=yb, range=[0, 1],
        tickmode="array", tickvals=K_TICK_VALS, ticktext=K_TICK_TEXT, ticks="",
        showgrid=False, zeroline=False, showline=True, mirror=True,
        linecolor="black", linewidth=5, tickfont=tickfont, ticklabelstandoff=13)
    layout[f"yaxis{nb if nb > 1 else ''}"] = dict(
        domain=ydom, anchor=xb, range=erange, tickmode="array", tickvals=E_TICK_VALS, ticktext=E_TICK_TEXT,
        ticks="inside", ticklen=20, tickwidth=5, tickcolor="black",
        minor=dict(tickvals=E_MINOR_VALS, ticks="inside", ticklen=11, tickwidth=5, tickcolor="black"),
        showgrid=False, zeroline=False, showline=True, mirror=True, linecolor="black", linewidth=5,
        tickfont=tickfont, ticklabelstandoff=12)
    layout[f"xaxis{nd}"] = dict(
        domain=[fx(COL_DOS_PX[c][0]), fx(COL_DOS_PX[c][1])], anchor=yd, range=DOS_RANGE,
        tickmode="array", tickvals=DOS_TICK_VALS,
        ticks="inside", ticklen=22, tickwidth=5, tickcolor="black",
        minor=dict(tickvals=DOS_MINOR_VALS, ticks="inside", ticklen=11, tickwidth=5, tickcolor="black"),
        showgrid=False, zeroline=False, showline=True, mirror=True, linecolor="black", linewidth=5,
        tickfont=tickfont, ticklabelstandoff=13)
    layout[f"yaxis{nd}"] = dict(
        domain=ydom, anchor=xd, range=erange, showticklabels=False, ticks="",
        showgrid=False, zeroline=False, showline=True, mirror=True, linecolor="black", linewidth=5)

    # dashed guide lines
    for kv in K_TICK_VALS[1:3]:
        shapes.append(dict(type="line", xref=xb, yref=f"{yb} domain", x0=kv, x1=kv, y0=0, y1=1,
                           line=dict(color="#3A3A3A", width=4, dash="18px,12px"), layer="below"))
    shapes.append(dict(type="line", xref=f"{xb} domain", yref=yb, x0=0, x1=1, y0=0, y1=0,
                       line=dict(color="#3A3A3A", width=4, dash="18px,12px"), layer="below"))

    # legend (drawn inside the DOS panel)
    names = [TM_NAMES[p]] + HOST_NAMES
    for i, (nm, col) in enumerate(zip(names, PDOS_COLORS)):
        yy = LEG_Y0 - i * LEG_DY
        shapes.append(dict(type="line", xref=f"{xd} domain", yref=f"{yd} domain",
                           x0=0.52, x1=0.752, y0=yy, y1=yy, line=dict(color=col, width=6)))
        annotations.append(dict(text=nm, xref=f"{xd} domain", yref=f"{yd} domain", x=0.772, y=yy,
                                xanchor="left", yanchor="middle", showarrow=False,
                                font=dict(family=FONT, size=50, color="black", weight="bold")))

    # titles and panel label
    annotations.append(dict(text="Energy (eV)", xref="paper", yref="paper", x=fx(ETITLE_X_PX[c]),
                            y=fy(ETITLE_Y_PX[r]), textangle=-90, showarrow=False,
                            xanchor="center", yanchor="middle",
                            font=dict(family=FONT, size=55, color="black", weight="bold")))
    annotations.append(dict(text="DOS (electron/eV)", xref="paper", yref="paper",
                            x=fx((COL_DOS_PX[c][0] + COL_DOS_PX[c][1]) / 2 - 19), y=fy(DOSTITLE_Y_PX[r]),
                            showarrow=False, xanchor="center", yanchor="middle",
                            font=dict(family=FONT, size=53, color="black", weight="bold")))
    annotations.append(dict(text=PANEL_LABELS[p], xref="paper", yref="paper", x=fx(LABEL_X_PX[c]),
                            y=fy(LABEL_Y_PX[r]), showarrow=False, xanchor="center", yanchor="middle",
                            font=dict(family=FONT, size=82, color="black", weight="bold")))

layout["shapes"] = shapes
layout["annotations"] = annotations
fig.update_layout(**layout)
fig.write_html("out.html")
